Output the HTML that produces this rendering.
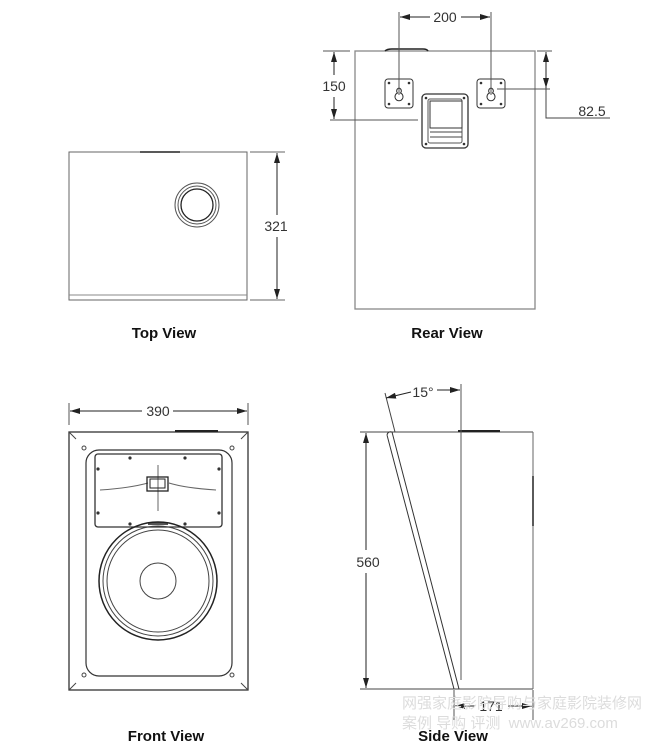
<!DOCTYPE html>
<html><head><meta charset="utf-8"><style>
html,body{margin:0;padding:0;background:#fff;}
svg{display:block;}
text{font-family:"Liberation Sans",sans-serif;}
</style></head><body>
<svg width="650" height="752" viewBox="0 0 650 752" xmlns="http://www.w3.org/2000/svg">
<defs>
<marker id="a" viewBox="0 0 10 6" refX="10" refY="3" markerWidth="10" markerHeight="6" orient="auto-start-reverse" markerUnits="userSpaceOnUse"><path d="M0,0 L10,3 L0,6 z" fill="#222"/></marker>
</defs>
<g fill="none" stroke="#444" stroke-width="1">
<!-- TOP VIEW -->
<rect x="69" y="152" width="178" height="148" stroke="#666"/>
<line x1="69" y1="295" x2="247" y2="295" stroke="#888"/>
<line x1="140" y1="152" x2="180" y2="152" stroke="#222" stroke-width="1.5"/>
<circle cx="197" cy="205" r="22" stroke="#555"/>
<circle cx="197" cy="205" r="19" stroke="#555"/>
<circle cx="197" cy="205" r="16" stroke="#222" stroke-width="1.3"/>
<line x1="250" y1="152" x2="285" y2="152" stroke="#666"/>
<line x1="250" y1="300" x2="285" y2="300" stroke="#666"/>
<line x1="277" y1="153" x2="277" y2="215" marker-start="url(#a)" stroke="#222"/>
<line x1="277" y1="237" x2="277" y2="299" marker-end="url(#a)" stroke="#222"/>
<!-- REAR VIEW -->
<rect x="355" y="51" width="180" height="258" stroke="#888" stroke-width="1.3"/>
<path d="M385,51 Q387,49 392,49 L423,49 Q427,49 428,51" stroke="#222" stroke-width="1.5"/>
<rect x="385" y="79" width="28" height="29" rx="3" stroke="#333"/>
<rect x="477" y="79" width="28" height="29" rx="3" stroke="#333"/>
<path d="M399,88 a3,3 0 0 1 1.5,5 a4,4 0 1 1 -3,0 a3,3 0 0 1 1.5,-5z" stroke="#333"/>
<path d="M491,88 a3,3 0 0 1 1.5,5 a4,4 0 1 1 -3,0 a3,3 0 0 1 1.5,-5z" stroke="#333"/>
<g fill="#333" stroke="none">
<circle cx="389" cy="83" r="1.3"/><circle cx="409" cy="83" r="1.3"/><circle cx="389" cy="104" r="1.3"/><circle cx="409" cy="104" r="1.3"/>
<circle cx="481" cy="83" r="1.3"/><circle cx="501" cy="83" r="1.3"/><circle cx="481" cy="104" r="1.3"/><circle cx="501" cy="104" r="1.3"/>
<circle cx="426" cy="98" r="1.3"/><circle cx="464" cy="98" r="1.3"/><circle cx="426" cy="144" r="1.3"/><circle cx="464" cy="144" r="1.3"/>
</g>
<rect x="422" y="94" width="46" height="54" rx="4" stroke="#333" stroke-width="1.3"/>
<rect x="428" y="99" width="34" height="44" rx="2" stroke="#555"/>
<rect x="430" y="101" width="32" height="27" stroke="#333"/>
<line x1="430" y1="132" x2="462" y2="132"/><line x1="430" y1="137" x2="462" y2="137"/>
<line x1="399" y1="12" x2="399" y2="95" stroke="#555"/>
<line x1="491" y1="12" x2="491" y2="95" stroke="#555"/>
<line x1="400" y1="17" x2="430" y2="17" marker-start="url(#a)" stroke="#222"/>
<line x1="461" y1="17" x2="490" y2="17" marker-end="url(#a)" stroke="#222"/>
<line x1="323" y1="51" x2="350" y2="51" stroke="#555"/>
<line x1="330" y1="120" x2="418" y2="120" stroke="#555"/>
<line x1="334" y1="52" x2="334" y2="75" marker-start="url(#a)" stroke="#222"/>
<line x1="334" y1="97" x2="334" y2="119" marker-end="url(#a)" stroke="#222"/>
<line x1="537" y1="51" x2="552" y2="51" stroke="#555"/>
<line x1="497" y1="89" x2="550" y2="89" stroke="#555"/>
<line x1="546" y1="52" x2="546" y2="88" stroke="#222"/>
<line x1="546" y1="72" x2="546" y2="52" marker-end="url(#a)" stroke="#222"/>
<line x1="546" y1="68" x2="546" y2="88" marker-end="url(#a)" stroke="#222"/>
<polyline points="546,88 546,118 610,118" stroke="#444"/>
<!-- FRONT VIEW -->
<rect x="69" y="432" width="179" height="258" stroke="#333" stroke-width="1.3"/>
<line x1="175" y1="431" x2="218" y2="431" stroke="#222" stroke-width="2"/>
<line x1="69" y1="432" x2="76" y2="439"/><line x1="248" y1="432" x2="241" y2="439"/>
<line x1="69" y1="690" x2="76" y2="683"/><line x1="248" y1="690" x2="241" y2="683"/>
<rect x="86" y="450" width="146" height="226" rx="13" stroke="#333" stroke-width="1.2"/>
<rect x="95" y="454" width="127" height="73" rx="3" stroke="#333" stroke-width="1.3"/>
<g fill="#333" stroke="none">
<circle cx="130" cy="458" r="1.6"/><circle cx="185" cy="458" r="1.6"/>
<circle cx="98" cy="469" r="1.6"/><circle cx="219" cy="469" r="1.6"/>
<circle cx="98" cy="513" r="1.6"/><circle cx="219" cy="513" r="1.6"/>
<circle cx="130" cy="524" r="1.6"/><circle cx="185" cy="524" r="1.6"/>
</g>
<line x1="158" y1="465" x2="158" y2="511" stroke="#666"/>
<path d="M100,490 Q130,488 148,483 M169,483 Q185,488 216,490" stroke="#666"/>
<rect x="147" y="477" width="21" height="14" stroke="#222" stroke-width="1.3"/>
<rect x="150" y="479" width="15" height="9" stroke="#222"/>
<rect x="148" y="522" width="20" height="3" fill="#555" stroke="none"/>
<circle cx="158" cy="581" r="59" stroke="#222" stroke-width="1.5"/>
<circle cx="158" cy="581" r="55" stroke="#444"/>
<circle cx="158" cy="581" r="51" stroke="#444"/>
<circle cx="158" cy="581" r="18" stroke="#444"/>
<circle cx="84" cy="448" r="2" stroke="#444"/><circle cx="232" cy="448" r="2" stroke="#444"/>
<circle cx="84" cy="675" r="2" stroke="#444"/><circle cx="232" cy="675" r="2" stroke="#444"/>
<line x1="69" y1="403" x2="69" y2="425" stroke="#555"/>
<line x1="248" y1="403" x2="248" y2="425" stroke="#555"/>
<line x1="70" y1="411" x2="142" y2="411" marker-start="url(#a)" stroke="#222"/>
<line x1="173" y1="411" x2="247" y2="411" marker-end="url(#a)" stroke="#222"/>
<!-- SIDE VIEW -->
<line x1="360" y1="432" x2="533" y2="432" stroke="#444"/>
<line x1="360" y1="689" x2="533" y2="689" stroke="#444"/>
<line x1="533" y1="432" x2="533" y2="689" stroke="#666"/>
<line x1="533" y1="476" x2="533" y2="526" stroke="#222" stroke-width="1.5"/>
<line x1="458" y1="431" x2="500" y2="431" stroke="#222" stroke-width="2"/>
<line x1="461" y1="384" x2="461" y2="680" stroke="#555"/>
<path d="M387,435 Q388,431 392,432 L459,689 M387,435 L454,689" stroke="#333"/>
<line x1="385" y1="393" x2="395" y2="432" stroke="#444"/>
<line x1="386" y1="398" x2="411" y2="392" marker-start="url(#a)" stroke="#222"/>
<line x1="437" y1="390" x2="460" y2="390" marker-end="url(#a)" stroke="#222"/>
<line x1="366" y1="433" x2="366" y2="550" marker-start="url(#a)" stroke="#222"/>
<line x1="366" y1="573" x2="366" y2="688" marker-end="url(#a)" stroke="#222"/>
<line x1="454" y1="690" x2="454" y2="720" stroke="#555"/>
<line x1="533" y1="690" x2="533" y2="720" stroke="#555"/>
<line x1="455" y1="706" x2="475" y2="706" marker-start="url(#a)" stroke="#222"/>
<line x1="508" y1="706" x2="532" y2="706" marker-end="url(#a)" stroke="#222"/>
</g>
<g fill="#333" font-size="14">
<text x="276" y="231" text-anchor="middle" fill="#fff" stroke="#fff" stroke-width="6">321</text>
<text x="276" y="231" text-anchor="middle">321</text>
<text x="445" y="22" text-anchor="middle">200</text>
<text x="334" y="91" text-anchor="middle">150</text>
<text x="592" y="116" text-anchor="middle">82.5</text>
<text x="158" y="416" text-anchor="middle">390</text>
<text x="368" y="567" text-anchor="middle" fill="#fff" stroke="#fff" stroke-width="6">560</text>
<text x="368" y="567" text-anchor="middle">560</text>
<text x="423" y="397" text-anchor="middle">15°</text>
<text x="491" y="711" text-anchor="middle">171</text>
</g>
<g fill="#dcdcdc" font-size="15">
<text x="402" y="708" style="font-family:'Liberation Sans','Noto Sans CJK SC',sans-serif">网强家庭影院导购与家庭影院装修网</text>
<text x="402" y="728" style="font-family:'Liberation Sans','Noto Sans CJK SC',sans-serif">案例 导购 评测 &#160;www.av269.com</text>
</g>
<g fill="#111" font-size="15" font-weight="bold" text-anchor="middle">
<text x="164" y="338">Top View</text>
<text x="447" y="338">Rear View</text>
<text x="166" y="741">Front View</text>
<text x="453" y="741">Side View</text>
</g>
</svg>
</body></html>
